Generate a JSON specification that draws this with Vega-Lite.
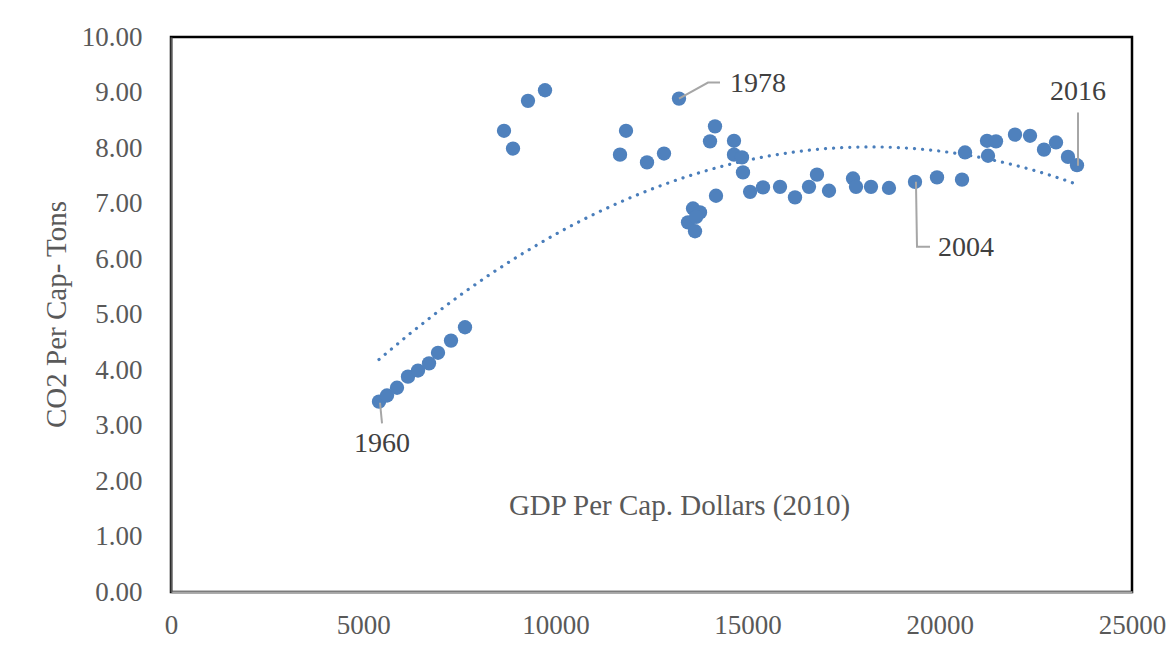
{
  "$schema": "https://vega.github.io/schema/vega-lite/v6.json",
  "autosize": {"type": "none"},
  "padding": {"left": 171, "top": 37, "right": 41, "bottom": 68},
  "width": 961,
  "height": 555,
  "background": "white",
  "config": {"view": {"stroke": "#000000", "strokeWidth": 2.5}, "font": "Liberation Serif"},
  "datasets": {
    "emissions": [
      {"gdp": 5411, "co2": 3.43}, {"gdp": 5619, "co2": 3.54}, {"gdp": 5879, "co2": 3.68},
      {"gdp": 6165, "co2": 3.88}, {"gdp": 6426, "co2": 3.99}, {"gdp": 6712, "co2": 4.12},
      {"gdp": 6946, "co2": 4.31}, {"gdp": 7284, "co2": 4.53}, {"gdp": 7648, "co2": 4.77},
      {"gdp": 8663, "co2": 8.31}, {"gdp": 8897, "co2": 7.99}, {"gdp": 9287, "co2": 8.85},
      {"gdp": 9730, "co2": 9.04}, {"gdp": 11837, "co2": 8.31}, {"gdp": 11681, "co2": 7.88},
      {"gdp": 12383, "co2": 7.74}, {"gdp": 12825, "co2": 7.90}, {"gdp": 13215, "co2": 8.89},
      {"gdp": 14152, "co2": 8.39}, {"gdp": 14022, "co2": 8.12}, {"gdp": 13580, "co2": 6.91},
      {"gdp": 13762, "co2": 6.84}, {"gdp": 13450, "co2": 6.66}, {"gdp": 13632, "co2": 6.50},
      {"gdp": 13660, "co2": 6.76},
      {"gdp": 14178, "co2": 7.14}, {"gdp": 14646, "co2": 8.13}, {"gdp": 14646, "co2": 7.88},
      {"gdp": 14854, "co2": 7.83}, {"gdp": 14880, "co2": 7.56}, {"gdp": 15065, "co2": 7.21},
      {"gdp": 15401, "co2": 7.29}, {"gdp": 15843, "co2": 7.30}, {"gdp": 16233, "co2": 7.11},
      {"gdp": 16597, "co2": 7.30}, {"gdp": 16805, "co2": 7.52}, {"gdp": 17118, "co2": 7.23},
      {"gdp": 17742, "co2": 7.45}, {"gdp": 17820, "co2": 7.30}, {"gdp": 18210, "co2": 7.30},
      {"gdp": 18678, "co2": 7.28}, {"gdp": 19355, "co2": 7.39}, {"gdp": 19927, "co2": 7.47},
      {"gdp": 20578, "co2": 7.43}, {"gdp": 20656, "co2": 7.92}, {"gdp": 21254, "co2": 7.86},
      {"gdp": 21228, "co2": 8.13}, {"gdp": 21462, "co2": 8.12}, {"gdp": 21956, "co2": 8.24},
      {"gdp": 22347, "co2": 8.22}, {"gdp": 22711, "co2": 7.97}, {"gdp": 23023, "co2": 8.10},
      {"gdp": 23335, "co2": 7.84}, {"gdp": 23569, "co2": 7.69}
    ],
    "leaders": [
      {"label": "1960", "step": 1, "gdp": 5437, "co2": 3.41},
      {"label": "1960", "step": 2, "gdp": 5490, "co2": 3.04},
      {"label": "1978", "step": 1, "gdp": 13215, "co2": 8.89},
      {"label": "1978", "step": 2, "gdp": 13970, "co2": 9.18},
      {"label": "1978", "step": 3, "gdp": 14282, "co2": 9.18},
      {"label": "2004", "step": 1, "gdp": 19380, "co2": 7.39},
      {"label": "2004", "step": 2, "gdp": 19407, "co2": 6.22},
      {"label": "2004", "step": 3, "gdp": 19745, "co2": 6.22},
      {"label": "2016", "step": 1, "gdp": 23595, "co2": 7.68},
      {"label": "2016", "step": 2, "gdp": 23595, "co2": 8.64}
    ],
    "labels": [
      {"label": "1960", "gdp": 5490, "co2": 2.67},
      {"label": "1978", "gdp": 15271, "co2": 9.15},
      {"label": "2004", "gdp": 20682, "co2": 6.20},
      {"label": "2016", "gdp": 23595, "co2": 9.01}
    ]
  },
  "encoding": {
    "x": {
      "field": "gdp", "type": "quantitative",
      "scale": {"domain": [0, 25000], "nice": false},
      "axis": {
        "values": [0, 5000, 10000, 15000, 20000, 25000], "format": "d",
        "grid": false, "ticks": false, "domainColor": "#a6a6a6", "domainWidth": 2.5,
        "labelFont": "Liberation Serif", "labelFontSize": 27, "labelColor": "#595959",
        "labelPadding": 20, "labelFlush": false, "labelOverlap": false,
        "title": "GDP Per Cap. Dollars (2010)", "titleFont": "Liberation Serif",
        "titleFontSize": 29, "titleFontWeight": "normal", "titleColor": "#595959",
        "titleX": 508, "titleY": -87, "titleBaseline": "middle", "zindex": 1
      }
    },
    "y": {
      "field": "co2", "type": "quantitative",
      "scale": {"domain": [0, 10], "nice": false},
      "axis": {
        "values": [0, 1, 2, 3, 4, 5, 6, 7, 8, 9, 10], "format": ".2f",
        "grid": false, "ticks": false, "domainColor": "#595959", "domainWidth": 2,
        "labelFont": "Liberation Serif", "labelFontSize": 27, "labelColor": "#595959",
        "labelPadding": 29, "labelFlush": false, "labelOverlap": false, "labelBaseline": "middle",
        "title": "CO2 Per Cap- Tons", "titleFont": "Liberation Serif",
        "titleFontSize": 29, "titleFontWeight": "normal", "titleColor": "#595959",
        "titleX": -115, "titleY": 277, "titleAngle": -90, "titleBaseline": "middle", "zindex": 1
      }
    }
  },
  "layer": [
    {
      "data": {"name": "emissions"},
      "transform": [{"regression": "co2", "on": "gdp", "method": "poly", "order": 2}],
      "mark": {"type": "line", "color": "#4a7ebb", "strokeWidth": 3.2, "strokeDash": [0.1, 8], "strokeCap": "round"}
    },
    {
      "data": {"name": "emissions"},
      "mark": {"type": "circle", "size": 205, "color": "#4f81bd", "opacity": 1}
    },
    {
      "data": {"name": "leaders"},
      "mark": {"type": "line", "color": "#a6a6a6", "strokeWidth": 2},
      "encoding": {"detail": {"field": "label"}, "order": {"field": "step", "type": "quantitative"}}
    },
    {
      "data": {"name": "labels"},
      "mark": {"type": "text", "font": "Liberation Serif", "fontSize": 28, "color": "#404040", "align": "center", "baseline": "middle"},
      "encoding": {"text": {"field": "label"}}
    }
  ]
}
